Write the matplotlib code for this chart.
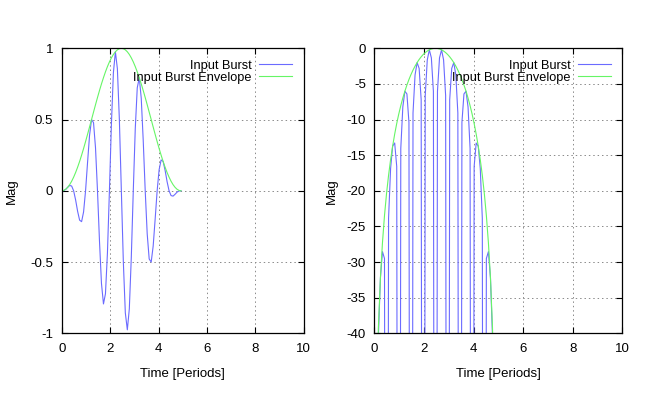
import numpy as np
import matplotlib
matplotlib.use("Agg")
import matplotlib.pyplot as plt

# ---- data ----
time_periods = [
    0.000, 0.082, 0.164, 0.247, 0.329, 0.411, 0.493, 0.575, 0.657, 0.740,
    0.822, 0.904, 0.986, 1.068, 1.150, 1.233, 1.315, 1.397, 1.479, 1.561,
    1.643, 1.726, 1.808, 1.890, 1.972, 2.054, 2.136, 2.219, 2.301, 2.383,
    2.465, 2.547, 2.629, 2.712, 2.794, 2.876, 2.958, 3.040, 3.122, 3.205,
    3.287, 3.369, 3.451, 3.533, 3.615, 3.698, 3.780, 3.862, 3.944, 4.026,
    4.108, 4.191, 4.273, 4.355, 4.437, 4.519, 4.601, 4.684, 4.766, 4.848,
    4.930,
]
input_burst = [
    0.0000, 0.0014, 0.0095, 0.0245, 0.0374, 0.0335, 0.0000, -0.0642, -0.1433, -0.2061,
    -0.2165, -0.1483, 0.0000, 0.1980, 0.3877, 0.5000, 0.4783, 0.3020, 0.0000, -0.3517,
    -0.6495, -0.7939, -0.7228, -0.4358, 0.0000, 0.4665, 0.8286, 0.9755, 0.8565, 0.4986,
    0.0000, -0.4986, -0.8565, -0.9755, -0.8286, -0.4665, 0.0000, 0.4358, 0.7228, 0.7939,
    0.6495, 0.3517, 0.0000, -0.3020, -0.4783, -0.5000, -0.3877, -0.1980, 0.0000, 0.1483,
    0.2165, 0.2061, 0.1433, 0.0642, 0.0000, -0.0335, -0.0374, -0.0245, -0.0095, -0.0014,
    0.0000,
]
burst_envelope = [
    0.0000, 0.0027, 0.0109, 0.0245, 0.0432, 0.0670, 0.0955, 0.1284, 0.1654, 0.2061,
    0.2500, 0.2966, 0.3455, 0.3960, 0.4477, 0.5000, 0.5523, 0.6040, 0.6545, 0.7034,
    0.7500, 0.7939, 0.8346, 0.8716, 0.9045, 0.9330, 0.9568, 0.9755, 0.9891, 0.9973,
    1.0000, 0.9973, 0.9891, 0.9755, 0.9568, 0.9330, 0.9045, 0.8716, 0.8346, 0.7939,
    0.7500, 0.7034, 0.6545, 0.6040, 0.5523, 0.5000, 0.4477, 0.3960, 0.3455, 0.2966,
    0.2500, 0.2061, 0.1654, 0.1284, 0.0955, 0.0670, 0.0432, 0.0245, 0.0109, 0.0027,
    0.0000,
]
series_labels = ["Input Burst", "Input Burst Envelope"]
x_ticks = [0, 2, 4, 6, 8, 10]
lin_ticks = [-1, -0.5, 0, 0.5, 1]
db_ticks = [-40, -35, -30, -25, -20, -15, -10, -5, 0]
x_label = "Time [Periods]"
y_label = "Mag"

# magnitude in dB (same data, shown on a log scale)
with np.errstate(divide="ignore"):
    burst_db = 20 * np.log10(np.abs(np.asarray(input_burst)))
    env_db = 20 * np.log10(np.abs(np.asarray(burst_envelope)))
burst_db = np.clip(burst_db, -200, None)
env_db = np.clip(env_db, -200, None)

plt.rcParams["font.family"] = ["Liberation Sans", "DejaVu Sans"]
plt.rcParams["font.size"] = 9.5

BLUE = "#6b6bff"
GREEN = "#66f566"

fig = plt.figure(figsize=(6.59, 3.96), dpi=100)
W, H = 659, 396
ax1 = fig.add_axes([61.7 / W, (H - 333.3) / H, 242 / W, 285 / H])
ax2 = fig.add_axes([374.3 / W, (H - 333.3) / H, 248 / W, 285 / H])


def style(ax, yticks, ylim, ylx):
    ax.set_xlim(0, 10)
    ax.set_ylim(*ylim)
    ax.set_xticks(x_ticks)
    ax.set_yticks(yticks)
    ax.set_yticklabels([("%g" % v) for v in yticks])
    ax.tick_params(direction="in", length=4.5, width=0.8, top=True, right=True,
                   colors="black")
    ax.tick_params(axis="x", pad=7)
    ax.tick_params(axis="y", pad=6)
    ax.grid(True, color="#8a8a8a", linestyle=(0, (1.5, 3)), linewidth=0.7)
    ax.set_axisbelow(True)
    for s in ax.spines.values():
        s.set_linewidth(0.9)
        s.set_color("black")
    ax.set_xlabel(x_label)
    ax.set_ylabel(y_label)
    ax.xaxis.set_label_coords(0.5, -0.12)
    ax.yaxis.set_label_coords(ylx, 0.5)
    leg = ax.legend(loc="upper right", frameon=False, markerfirst=False,
                    handlelength=2.6, handletextpad=0.55, labelspacing=0.0,
                    borderpad=0.3, borderaxespad=0.6, fontsize=9.2)
    return leg


ax1.plot(time_periods, input_burst, color=BLUE, lw=0.8, label=series_labels[0])
ax1.plot(time_periods, burst_envelope, color=GREEN, lw=0.8, label=series_labels[1])
style(ax1, lin_ticks, (-1, 1), -0.18)

ax2.plot(time_periods, burst_db, color=BLUE, lw=0.8, label=series_labels[0])
ax2.plot(time_periods, env_db, color=GREEN, lw=0.8, label=series_labels[1])
style(ax2, db_ticks, (-40, 0), -0.145)

fig.savefig("out.png", dpi=100)
